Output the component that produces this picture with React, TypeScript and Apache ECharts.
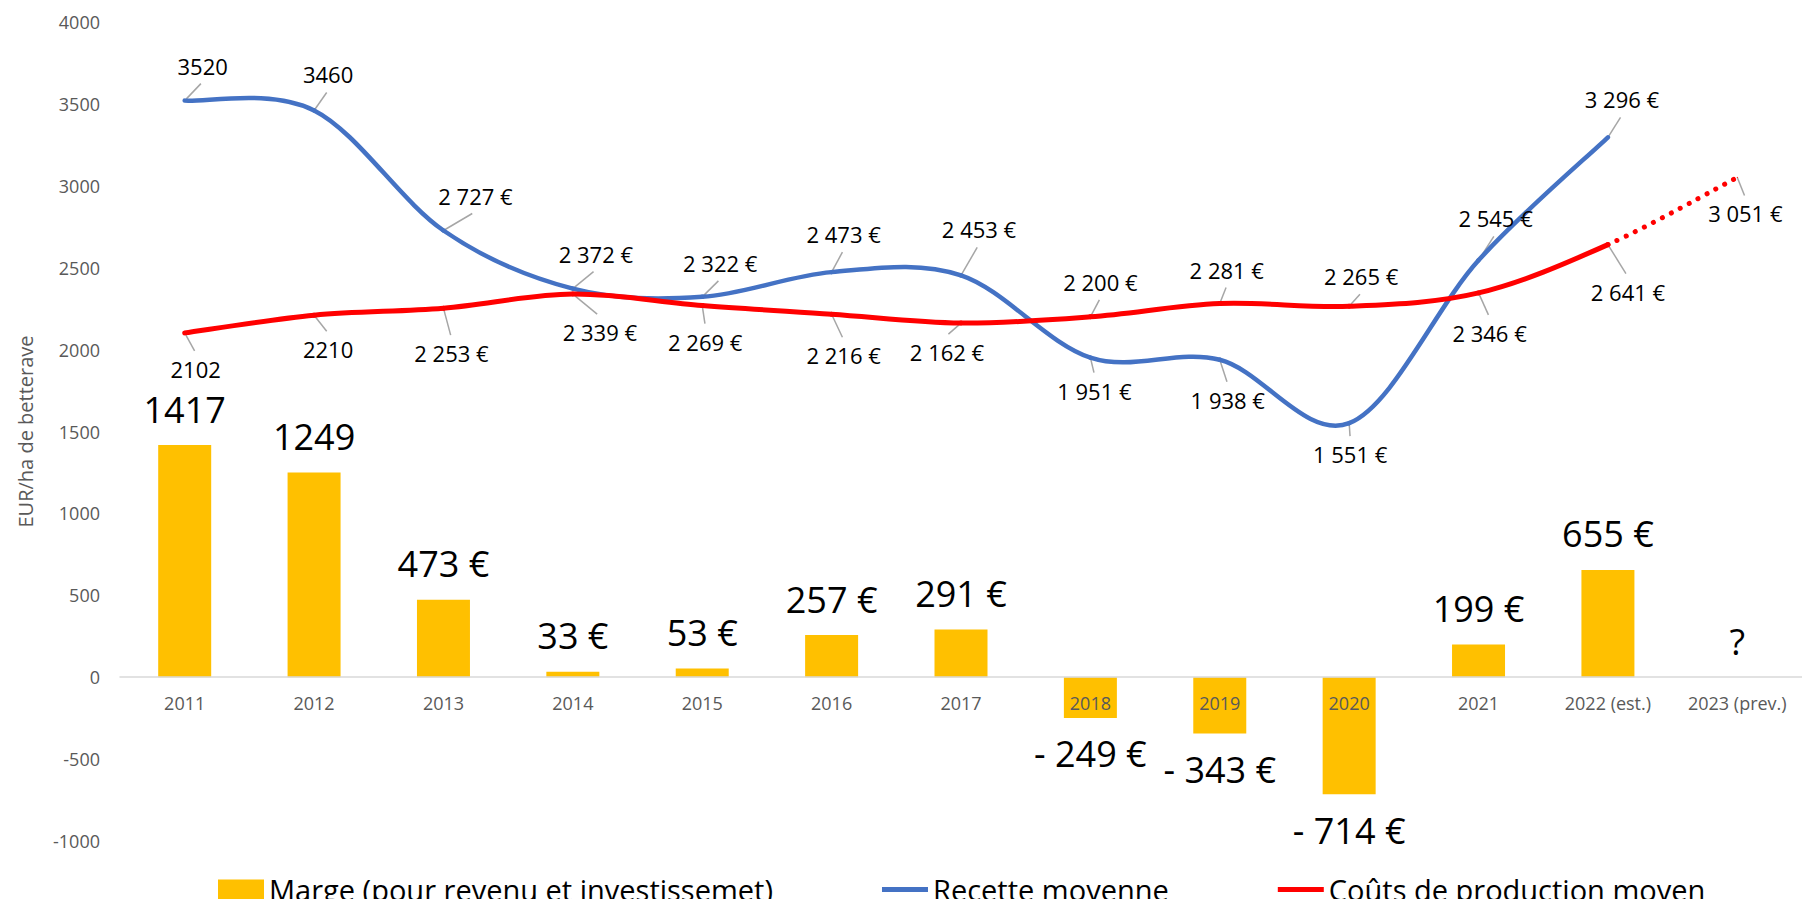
import React, { useEffect, useRef } from 'react';
import * as echarts from 'echarts';

const years = ['2011', '2012', '2013', '2014', '2015', '2016', '2017', '2018', '2019', '2020', '2021', '2022 (est.)', '2023 (prev.)'];
const marge: (number | null)[] = [1417, 1249, 473, 33, 53, 257, 291, -249, -343, -714, 199, 655, null];
const recette: (number | null)[] = [3520, 3460, 2727, 2372, 2322, 2473, 2453, 1951, 1938, 1551, 2545, 3296, null];
const couts: (number | null)[] = [2102, 2210, 2253, 2339, 2269, 2216, 2162, 2200, 2281, 2265, 2346, 2641, null];
const coutsPrev: (number | null)[] = [null, null, null, null, null, null, null, null, null, null, null, 2641, 3051];

const seriesNames = ['Marge (pour revenu et investissemet)', 'Recette moyenne', 'Coûts de production moyen'];

// label offsets (layout only): label centre relative to the point, px
const recetteLabelOffsets = [[18, -35], [14, -36], [32, -35], [23, -35], [18, -34], [12, -38], [18, -46], [4, 33], [8, 40], [1, 31], [17, -42], [14, -38], [0, 0]];
const coutsLabelOffsets = [[11, 36], [14, 34], [8, 45], [27, 38], [3, 36], [12, 41], [-14, 29], [10, -35], [7, -34], [12, -30], [11, 40], [20, 47], [0, 0]];
const prevLabelOffset = [8, 36];

const FONT = 'Open Sans';
const BLUE = '#4472C4';
const RED = '#FF0000';

function fmt(v: number, i: number): string {
  if (i < 2) return String(v);
  const s = String(Math.abs(v)).replace(/\B(?=(\d{3})+(?!\d))/g, ' ');
  return (v < 0 ? '- ' : '') + s + ' €';
}

function leaderData(values: (number | null)[], offsets: number[][], only?: number) {
  const out: number[][] = [];
  values.forEach((v, i) => {
    if (v == null) return;
    if (only != null && i !== only) return;
    const [dx, dy] = offsets[i];
    const s = dy < 0 ? -1 : 1;
    out.push([i, v, dx * 0.9, dy - s * 18]);
  });
  return out;
}

// segments for a Catmull-Rom style smoothed curve (like Excel's smoothed line)
// item: [i, v_i, i+1, v_{i+1}, iPrev, vPrev, iNext, vNext, dotted]
function segments(values: (number | null)[], dottedFrom: number) {
  const out: number[][] = [];
  for (let i = 0; i < values.length - 1; i++) {
    const a = values[i];
    const b = values[i + 1];
    if (a == null || b == null) continue;
    const pv = i > 0 && values[i - 1] != null ? values[i - 1] : a;
    const pi = i > 0 && values[i - 1] != null ? i - 1 : i;
    const nv = i + 2 < values.length && values[i + 2] != null ? values[i + 2] : b;
    const ni = i + 2 < values.length && values[i + 2] != null ? i + 2 : i + 1;
    out.push([i, a, i + 1, b, pi, pv as number, ni, nv as number, i >= dottedFrom ? 1 : 0]);
  }
  return out;
}

function curveRenderer(color: string, width: number) {
  return (params: any, api: any) => {
    const p1 = api.coord([api.value(0), api.value(1)]);
    const p2 = api.coord([api.value(2), api.value(3)]);
    const p0 = api.coord([api.value(4), api.value(5)]);
    const p3 = api.coord([api.value(6), api.value(7)]);
    const dotted = api.value(8) === 1;
    const k = 1 / 6;
    return {
      type: 'bezierCurve',
      shape: {
        x1: p1[0], y1: p1[1],
        x2: p2[0], y2: p2[1],
        cpx1: p1[0] + (p2[0] - p0[0]) * k, cpy1: p1[1] + (p2[1] - p0[1]) * k,
        cpx2: p2[0] - (p3[0] - p1[0]) * k, cpy2: p2[1] - (p3[1] - p1[1]) * k,
      },
      style: {
        fill: null,
        stroke: color,
        lineWidth: width,
        lineCap: 'round',
        lineDash: dotted ? [0.1, 10] : null,
      },
    };
  };
}

export default function App() {
  const ref = useRef<HTMLDivElement>(null);
  useEffect(() => {
    if (!ref.current) return;
    const chart = echarts.init(ref.current, undefined, { renderer: 'svg' });

    const prevOffsets = coutsPrev.map((_, i) => (i === 12 ? prevLabelOffset : [0, 0]));
    const leaders = [
      ...leaderData(recette, recetteLabelOffsets),
      ...leaderData(couts, coutsLabelOffsets),
      ...leaderData(coutsPrev, prevOffsets, 12),
    ];
    const coutsAll = couts.map((v, i) => (v != null ? v : coutsPrev[i]));

    const lineLabel = {
      show: true,
      position: 'inside',
      fontSize: 22,
      fontFamily: FONT,
      color: '#000',
      formatter: (p: any) => fmt(p.value, p.dataIndex),
    };

    chart.setOption({
      animation: false,
      textStyle: { fontFamily: FONT },
      grid: { left: 120, top: 22, width: 1694, height: 819, containLabel: false },
      legend: {
        data: [
          { name: seriesNames[0], icon: 'rect' },
          { name: seriesNames[1], icon: 'path://M0,0H46V5H0Z' },
          { name: seriesNames[2], icon: 'path://M0,0H46V5H0Z' },
        ],
        left: 218,
        top: 875,
        padding: 0,
        itemWidth: 46,
        itemHeight: 20,
        itemGap: 109,
        textStyle: { fontSize: 29, color: '#000', fontFamily: FONT },
      },
      xAxis: {
        type: 'category',
        data: years,
        z: 5,
        offset: -163.8,
        axisLine: { onZero: false, lineStyle: { color: '#d9d9d9', width: 1.5 } },
        axisTick: { show: false },
        axisLabel: { fontSize: 18, color: '#595959', margin: 17, interval: 0, fontFamily: FONT },
      },
      yAxis: {
        type: 'value',
        min: -1000,
        max: 4000,
        interval: 500,
        splitLine: { show: false },
        axisLine: { show: false },
        axisTick: { show: false },
        axisLabel: { fontSize: 18, color: '#595959', margin: 20, fontFamily: FONT, formatter: (v: number) => String(v) },
        name: 'EUR/ha de betterave',
        nameLocation: 'middle',
        nameRotate: 90,
        nameGap: 85,
        nameTextStyle: { fontSize: 20, color: '#595959', fontFamily: FONT },
      },
      series: [
        {
          name: seriesNames[0],
          type: 'bar',
          barWidth: 53,
          itemStyle: { color: '#FFC000' },
          label: {
            show: true,
            fontSize: 36,
            fontFamily: FONT,
            color: '#000',
            distance: 18,
            formatter: (p: any) => (marge[p.dataIndex] == null ? '?' : fmt(p.value, p.dataIndex)),
          },
          data: marge.map((v) =>
            v == null
              ? { value: 0, label: { position: 'top' } }
              : { value: v, label: { position: v < 0 ? 'bottom' : 'top' } }
          ),
          z: 2,
        },
        {
          name: 'leaders',
          type: 'custom',
          silent: true,
          z: 1,
          encode: { x: 0, y: 1 },
          data: leaders,
          renderItem: (params: any, api: any) => {
            const p = api.coord([api.value(0), api.value(1)]);
            return {
              type: 'line',
              shape: { x1: p[0], y1: p[1], x2: p[0] + api.value(2), y2: p[1] + api.value(3) },
              style: { stroke: '#a6a6a6', lineWidth: 1.5 },
            };
          },
        },
        {
          name: 'curve-recette',
          type: 'custom',
          silent: true,
          z: 3,
          encode: { x: 0, y: 1 },
          data: segments(recette, 99),
          renderItem: curveRenderer(BLUE, 4.5),
        },
        {
          name: 'curve-couts',
          type: 'custom',
          silent: true,
          z: 3,
          encode: { x: 0, y: 1 },
          data: segments(coutsAll, 11),
          renderItem: curveRenderer(RED, 5),
        },
        {
          name: seriesNames[1],
          type: 'line',
          symbol: 'circle',
          symbolSize: 1,
          showSymbol: true,
          itemStyle: { color: BLUE },
          lineStyle: { color: BLUE, width: 0, opacity: 0 },
          label: lineLabel,
          data: recette.map((v, i) => ({ value: v, label: { offset: recetteLabelOffsets[i] } })),
          z: 4,
        },
        {
          name: seriesNames[2],
          type: 'line',
          symbol: 'circle',
          symbolSize: 1,
          showSymbol: true,
          itemStyle: { color: RED },
          lineStyle: { color: RED, width: 0, opacity: 0 },
          label: lineLabel,
          data: couts.map((v, i) => ({ value: v, label: { offset: coutsLabelOffsets[i] } })),
          z: 4,
        },
        {
          name: 'Coûts de production (prév.)',
          type: 'line',
          symbol: 'circle',
          symbolSize: 1,
          showSymbol: true,
          itemStyle: { color: RED },
          lineStyle: { color: RED, width: 0, opacity: 0 },
          label: lineLabel,
          data: coutsPrev.map((v, i) => ({
            value: v,
            label: i === 12 ? { show: true, offset: prevLabelOffset } : { show: false },
          })),
          z: 4,
        },
      ],
    });
    return () => chart.dispose();
  }, []);
  return (
    <div
      ref={ref}
      style={{ position: 'absolute', left: 0, top: 0, width: 1802, height: 899, background: '#fff' }}
    />
  );
}
